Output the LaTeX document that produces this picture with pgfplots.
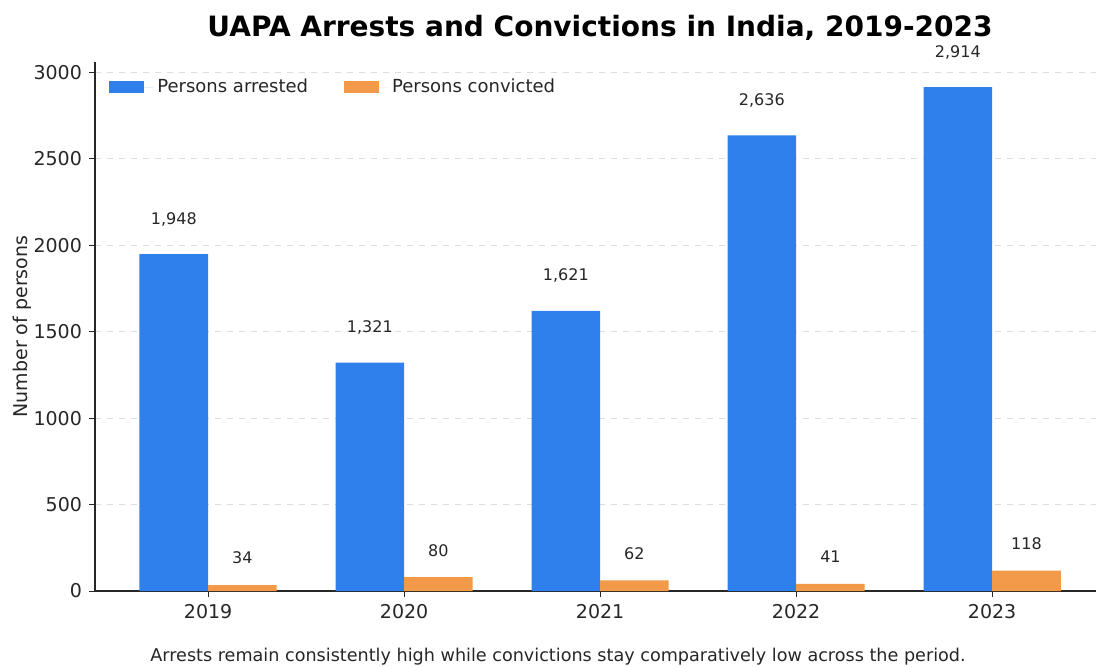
\documentclass[border=0pt]{standalone}
\usepackage{pgfplots}
\pgfplotsset{compat=1.18}
\usepackage{fontspec}
\setmainfont{DejaVu Sans}
\definecolor{barblue}{RGB}{47,128,237}
\definecolor{barorange}{RGB}{242,153,74}
\definecolor{gridgray}{RGB}{220,220,220}
\begin{document}
\begin{tikzpicture}
\path[use as bounding box] (0,0) rectangle (548pt,333pt);
\begin{axis}[
  at={(47.5pt,37.5pt)}, anchor=south west,
  scale only axis, width=500.5pt, height=264.5pt,
  xmin=-0.577, xmax=4.53, ymin=0, ymax=3060,
  axis x line*=bottom, axis y line*=left,
  axis line style={-, line width=0.6pt, black!85},
  xtick={0,1,2,3,4}, xticklabels={2019,2020,2021,2022,2023},
  ytick={0,500,1000,1500,2000,2500,3000},
  tick align=outside, major tick length=3pt,
  tick style={black!85, line width=0.5pt},
  /pgf/number format/assume math mode=true,
  /pgf/number format/1000 sep={},
  ticklabel style={font=\fontsize{9.5}{11}\selectfont, text=black!85},
  ymajorgrids, major grid style={gridgray, dashed, line width=0.5pt},
  ylabel={Number of persons},
  ylabel style={font=\fontsize{9.5}{11}\selectfont, text=black!85, yshift=-6pt},
  ybar, bar width=0.35,
  legend style={at={(0.008,0.984)}, anchor=north west, draw=none, fill=none,
    legend columns=2, font=\fontsize{9}{11}\selectfont, text=black!85,
    /tikz/every even column/.append style={column sep=16pt}},
  legend image code/.code={\fill[#1] (0pt,-3pt) rectangle (17.5pt,3.2pt); \path (0pt,0pt) -- (22pt,0pt);},
  point meta=y,
  nodes near coords={\pgfmathprintnumber[1000 sep={,}]{\pgfplotspointmeta}},
  every node near coord/.append style={font=\fontsize{8}{10}\selectfont, text=black!85, anchor=center},
]
\addplot[fill=barblue, draw=none, bar shift=-0.175,
  every node near coord/.append style={yshift=17.5pt}]
  coordinates {(0,1948) (1,1321) (2,1621) (3,2636) (4,2914)};
\addlegendentry{Persons arrested}
\addplot[fill=barorange, draw=none, bar shift=0.175,
  every node near coord/.append style={yshift=13.5pt}]
  coordinates {(0,34) (1,80) (2,62) (3,41) (4,118)};
\addlegendentry{Persons convicted}
\end{axis}
\node[font=\bfseries\fontsize{14}{17}\selectfont] at (300pt,319pt) {UAPA Arrests and Convictions in India, 2019-2023};
\node[font=\fontsize{8.8}{11}\selectfont, text=black!85] at (279pt,4.5pt) {Arrests remain consistently high while convictions stay comparatively low across the period.};
\end{tikzpicture}
\end{document}
